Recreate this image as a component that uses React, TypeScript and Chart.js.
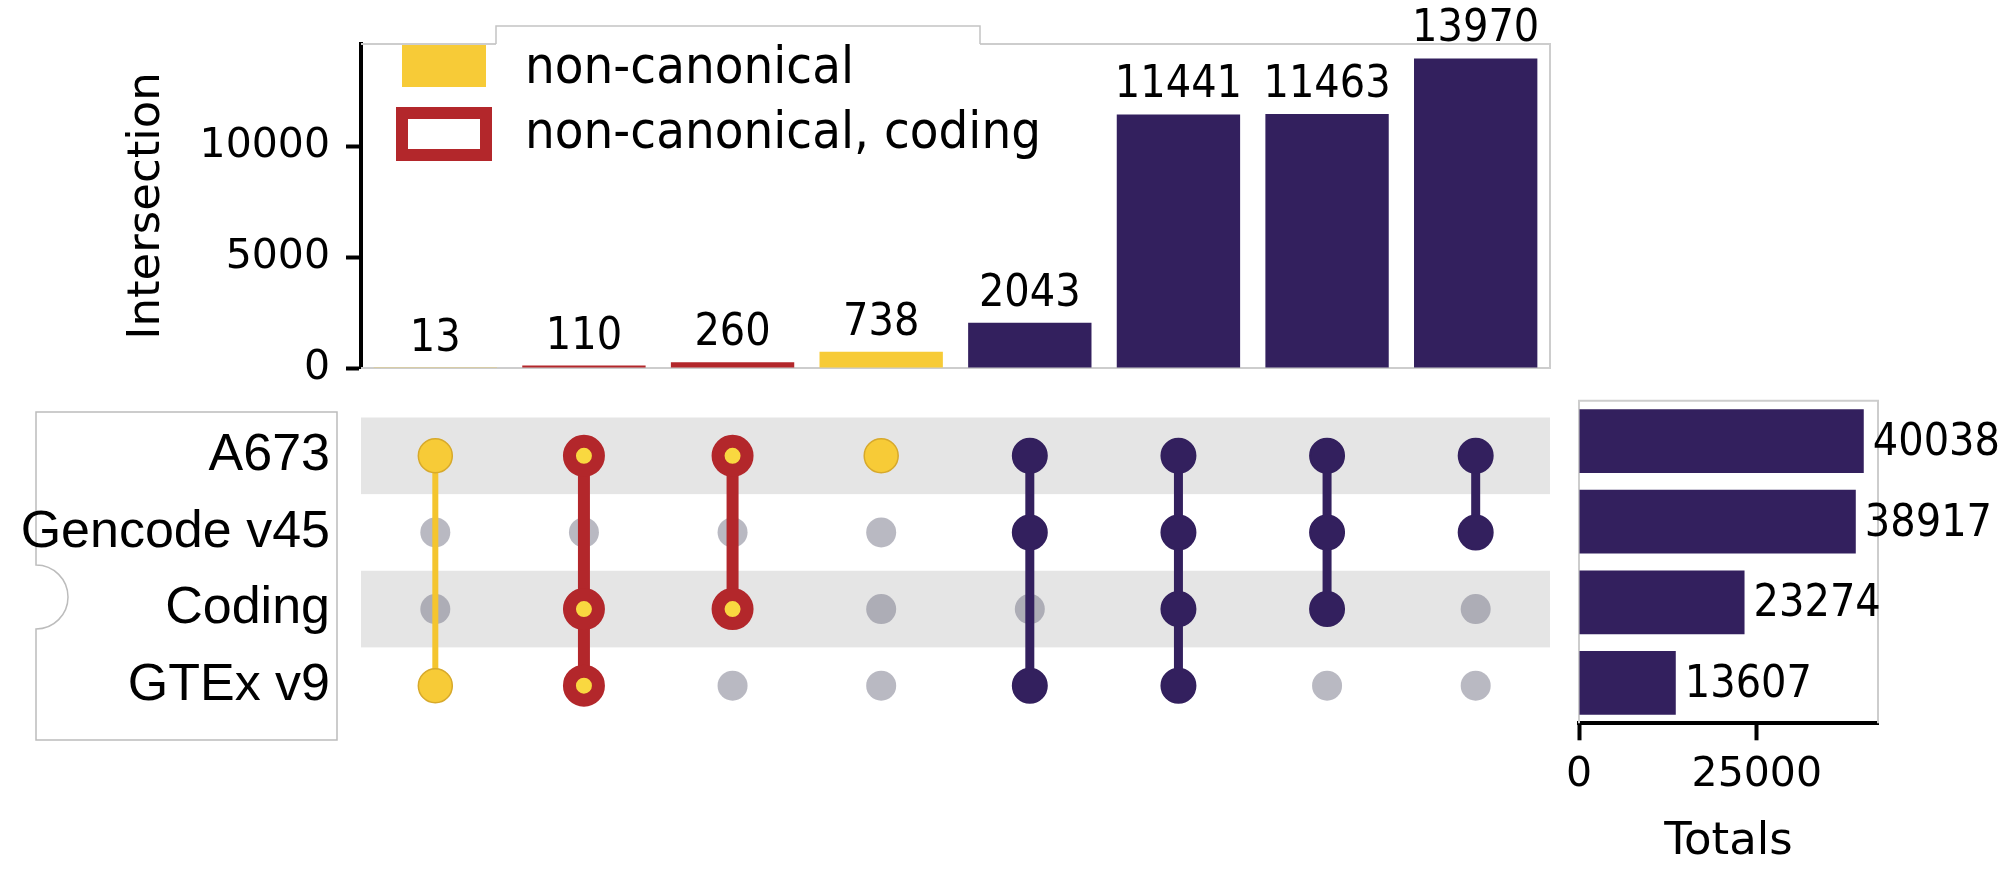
import React, { useEffect, useRef } from 'react';
import { Chart, registerables } from 'chart.js';

Chart.register(...registerables);
Chart.defaults.font.family = 'DejaVu Sans';

// ---------------- data ----------------
const SET_NAMES = ['A673', 'Gencode v45', 'Coding', 'GTEx v9'];
const SET_TOTALS = [40038, 38917, 23274, 13607];
const INTERSECTIONS = [
  'A673 & GTEx v9',
  'A673 & Coding & GTEx v9',
  'A673 & Coding',
  'A673',
  'A673 & Gencode v45 & GTEx v9',
  'A673 & Gencode v45 & Coding & GTEx v9',
  'A673 & Gencode v45 & Coding',
  'A673 & Gencode v45',
];
const INTERSECTION_SIZES = [13, 110, 260, 738, 2043, 11441, 11463, 13970];
const INTERSECTION_KIND = ['nc', 'ncc', 'ncc', 'nc', 'can', 'can', 'can', 'can'];
// membership rows follow SET_NAMES order
const MEMBERSHIP = [
  [1, 0, 0, 1],
  [1, 0, 1, 1],
  [1, 0, 1, 0],
  [1, 0, 0, 0],
  [1, 1, 0, 1],
  [1, 1, 1, 1],
  [1, 1, 1, 0],
  [1, 1, 0, 0],
];
const INTERSECTION_TICKS = [0, 5000, 10000];
const TOTALS_TICKS = [0, 25000];
const LEGEND_ITEMS = ['non-canonical', 'non-canonical, coding'];

// ---------------- styles ----------------
const YELLOW = '#f7cb37';
const RED = '#b3272b';
const PURPLE = '#33205e';
const GRAY_DOT = 'rgba(120,120,138,0.52)';
const BAND = '#e5e5e5';
const SPINE = '#cdcdcd';

const KIND_STYLE: any = {
  nc: { color: '#f4c52f', lineWidth: 6, radius: 17, bg: YELLOW, border: '#d7a92b', borderWidth: 1.5 },
  ncc: { color: RED, lineWidth: 12, radius: 14.5, bg: '#f9d840', border: RED, borderWidth: 13 },
  can: { color: PURPLE, lineWidth: 9, radius: 17, bg: PURPLE, border: PURPLE, borderWidth: 2 },
};
const BAR_COLORS = INTERSECTION_KIND.map((k) => (k === 'nc' ? YELLOW : k === 'ncc' ? RED : PURPLE));

function stretchedText(ctx: any, text: string, x: number, y: number, size: number, align: string, sy = 1.1) {
  ctx.save();
  ctx.translate(x, y);
  ctx.scale(1, sy);
  ctx.font = `${size}px "DejaVu Sans"`;
  ctx.textAlign = align;
  ctx.textBaseline = 'alphabetic';
  ctx.fillStyle = '#000';
  ctx.fillText(text, 0, 0);
  ctx.restore();
}

const plainTick = (v: any) => String(v);

export default function App() {
  const topRef = useRef<HTMLCanvasElement>(null);
  const matRef = useRef<HTMLCanvasElement>(null);
  const totRef = useRef<HTMLCanvasElement>(null);

  useEffect(() => {
    const charts: any[] = [];

    // ---------- top: intersection sizes ----------
    const topPlugin = {
      id: 'upsetTop',
      beforeDatasetsDraw(chart: any) {
        const { ctx, chartArea: a } = chart;
        ctx.save();
        ctx.strokeStyle = SPINE;
        ctx.lineWidth = 2;
        ctx.beginPath();
        ctx.moveTo(a.left, a.top);
        ctx.lineTo(a.right, a.top);
        ctx.lineTo(a.right, a.bottom);
        ctx.lineTo(a.left, a.bottom);
        ctx.stroke();
        ctx.restore();
      },
      afterDatasetsDraw(chart: any) {
        const meta = chart.getDatasetMeta(0);
        meta.data.forEach((bar: any, i: number) => {
          stretchedText(chart.ctx, String(INTERSECTION_SIZES[i]), bar.x, bar.y - 17, 40, 'center');
        });
      },
      afterDraw(chart: any) {
        const { ctx } = chart;
        ctx.save();
        // legend frame
        ctx.fillStyle = '#fff';
        ctx.fillRect(496, 26, 484, 19);
        ctx.strokeStyle = '#c4c4c4';
        ctx.lineWidth = 1.5;
        ctx.beginPath();
        ctx.moveTo(496, 44);
        ctx.lineTo(496, 26);
        ctx.lineTo(980, 26);
        ctx.lineTo(980, 44);
        ctx.stroke();
        // patches
        ctx.fillStyle = YELLOW;
        ctx.fillRect(402, 45, 84, 42);
        ctx.strokeStyle = RED;
        ctx.lineWidth = 12;
        ctx.strokeRect(402, 113, 84, 42);
        ctx.restore();
        stretchedText(ctx, LEGEND_ITEMS[0], 525, 83, 47, 'left', 1.08);
        stretchedText(ctx, LEGEND_ITEMS[1], 525, 148, 47, 'left', 1.08);
      },
    };

    charts.push(
      new Chart(topRef.current as any, {
        type: 'bar',
        data: {
          labels: INTERSECTIONS,
          datasets: [
            {
              data: INTERSECTION_SIZES,
              backgroundColor: BAR_COLORS,
              borderWidth: 0,
              barPercentage: 0.83,
              categoryPercentage: 1,
            },
          ],
        },
        options: {
          responsive: false,
          animation: false,
          layout: { padding: { left: 0, top: 44, right: 50, bottom: 32 } },
          plugins: { legend: { display: false }, tooltip: { enabled: false } },
          scales: {
            x: { display: false, offset: true },
            y: {
              min: 0,
              max: 14620,
              afterBuildTicks: (s: any) => {
                s.ticks = INTERSECTION_TICKS.map((v) => ({ value: v }));
              },
              afterFit: (s: any) => {
                s.width = 361;
                s.paddingTop = 0;
                s.paddingBottom = 0;
              },
              ticks: { font: { family: 'DejaVu Sans', size: 41 }, color: '#000', padding: 16, callback: plainTick },
              grid: { display: true, drawOnChartArea: false, drawTicks: true, tickLength: 15, tickWidth: 4, tickColor: '#000' },
              border: { display: true, color: '#000', width: 4 },
              title: {
                display: true,
                text: 'Intersection',
                color: '#000',
                font: { family: 'DejaVu Sans', size: 45 },
                padding: { top: 120, bottom: 0 },
              },
            },
          },
        } as any,
        plugins: [topPlugin],
      })
    );

    // ---------- matrix ----------
    const absent: any[] = [];
    MEMBERSHIP.forEach((m, c) =>
      m.forEach((v, r) => {
        if (!v) absent.push({ x: INTERSECTIONS[c], y: SET_NAMES[r] });
      })
    );
    const memberSets = MEMBERSHIP.map((m, c) => {
      const st = KIND_STYLE[INTERSECTION_KIND[c]];
      const pts: any[] = [];
      m.forEach((v, r) => {
        if (v) pts.push({ x: INTERSECTIONS[c], y: SET_NAMES[r] });
      });
      return {
        data: pts,
        showLine: true,
        fill: false,
        tension: 0,
        borderColor: st.color,
        borderWidth: st.lineWidth,
        pointRadius: st.radius,
        pointHoverRadius: st.radius,
        pointBackgroundColor: st.bg,
        pointBorderColor: st.border,
        pointBorderWidth: st.borderWidth,
        order: 0,
      };
    });

    const matrixPlugin = {
      id: 'upsetMatrix',
      beforeDraw(chart: any) {
        const { ctx } = chart;
        ctx.save();
        ctx.beginPath();
        ctx.moveTo(36, 22);
        ctx.lineTo(337, 22);
        ctx.lineTo(337, 350);
        ctx.lineTo(36, 350);
        ctx.lineTo(36, 239);
        ctx.arc(36, 207, 32, Math.PI / 2, -Math.PI / 2, true);
        ctx.lineTo(36, 22);
        ctx.closePath();
        ctx.fillStyle = '#fff';
        ctx.fill();
        ctx.strokeStyle = '#bcbcbc';
        ctx.lineWidth = 1.5;
        ctx.stroke();
        ctx.restore();
      },
      beforeDatasetsDraw(chart: any) {
        const { ctx, chartArea: a, scales } = chart;
        const h = (a.bottom - a.top) / SET_NAMES.length;
        ctx.save();
        ctx.fillStyle = BAND;
        SET_NAMES.forEach((_n, i) => {
          if (i % 2 === 0) {
            const yc = scales.y.getPixelForValue(i);
            ctx.fillRect(a.left, yc - h / 2, a.right - a.left, h);
          }
        });
        ctx.restore();
      },
    };

    charts.push(
      new Chart(matRef.current as any, {
        type: 'line',
        data: {
          labels: INTERSECTIONS,
          datasets: [
            ...memberSets,
            {
              data: absent,
              showLine: false,
              pointRadius: 15,
              pointHoverRadius: 15,
              pointBackgroundColor: GRAY_DOT,
              pointBorderWidth: 0,
              borderWidth: 0,
              order: 10,
            },
          ],
        },
        options: {
          responsive: false,
          animation: false,
          layout: { padding: { left: 0, top: 10.7, right: 50, bottom: 36 } },
          plugins: { legend: { display: false }, tooltip: { enabled: false } },
          scales: {
            x: { type: 'category', offset: true, display: false },
            y: {
              type: 'category',
              labels: SET_NAMES,
              offset: true,
              afterFit: (s: any) => {
                s.width = 361;
                s.paddingTop = 0;
                s.paddingBottom = 0;
              },
              ticks: { font: { family: 'Liberation Sans', size: 52 }, color: '#000', padding: 31 },
              grid: { display: false, drawTicks: false },
              border: { display: false },
            },
          },
        } as any,
        plugins: [matrixPlugin],
      })
    );

    // ---------- totals ----------
    const totalsPlugin = {
      id: 'upsetTotals',
      beforeDatasetsDraw(chart: any) {
        const { ctx, chartArea: a } = chart;
        ctx.save();
        ctx.strokeStyle = SPINE;
        ctx.lineWidth = 2;
        ctx.beginPath();
        ctx.moveTo(a.left, a.bottom);
        ctx.lineTo(a.left, a.top);
        ctx.lineTo(a.right, a.top);
        ctx.lineTo(a.right, a.bottom);
        ctx.stroke();
        ctx.restore();
      },
      afterDatasetsDraw(chart: any) {
        const meta = chart.getDatasetMeta(0);
        meta.data.forEach((bar: any, i: number) => {
          stretchedText(chart.ctx, String(SET_TOTALS[i]), bar.x + 9, bar.y + 14, 40, 'left');
        });
      },
    };

    charts.push(
      new Chart(totRef.current as any, {
        type: 'bar',
        data: {
          labels: SET_NAMES,
          datasets: [
            {
              data: SET_TOTALS,
              backgroundColor: PURPLE,
              borderWidth: 0,
              barPercentage: 0.79,
              categoryPercentage: 1,
            },
          ],
        },
        options: {
          indexAxis: 'y',
          responsive: false,
          animation: false,
          layout: { padding: { left: 19, top: 10.7, right: 132, bottom: 0 } },
          plugins: { legend: { display: false }, tooltip: { enabled: false } },
          scales: {
            x: {
              min: 0,
              max: 42040,
              afterBuildTicks: (s: any) => {
                s.ticks = TOTALS_TICKS.map((v) => ({ value: v }));
              },
              afterFit: (s: any) => {
                s.height = 148.7;
                s.paddingLeft = 0;
                s.paddingRight = 0;
              },
              ticks: { font: { family: 'DejaVu Sans', size: 41 }, color: '#000', padding: 10.6, maxRotation: 0, autoSkip: false, callback: plainTick },
              grid: { display: true, drawOnChartArea: false, drawTicks: true, tickLength: 17, tickWidth: 4, tickColor: '#000' },
              border: { display: true, color: '#000', width: 4 },
              title: {
                display: true,
                text: 'Totals',
                color: '#000',
                font: { family: 'DejaVu Sans', size: 45 },
                padding: { top: 0, bottom: 2.6 },
              },
            },
            y: { display: false, offset: true },
          },
        } as any,
        plugins: [totalsPlugin],
      })
    );

    return () => charts.forEach((c) => c.destroy());
  }, []);

  return (
    <div style={{ position: 'absolute', left: 0, top: 0, width: 2010, height: 872, background: '#fff', overflow: 'hidden' }}>
      <canvas ref={topRef} width={1600} height={400} style={{ position: 'absolute', left: 0, top: 0, width: 1600, height: 400 }} />
      <canvas ref={matRef} width={1600} height={370} style={{ position: 'absolute', left: 0, top: 390, width: 1600, height: 370 }} />
      <canvas ref={totRef} width={450} height={482} style={{ position: 'absolute', left: 1560, top: 390, width: 450, height: 482 }} />
    </div>
  );
}
